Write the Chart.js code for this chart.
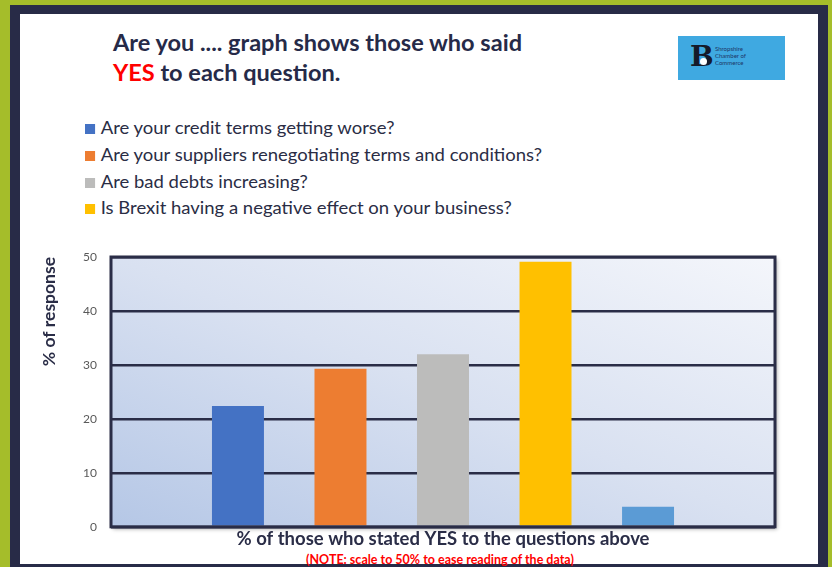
<!DOCTYPE html>
<html>
<head>
<meta charset="utf-8">
<script src="https://cdn.jsdelivr.net/npm/chart.js@4/dist/chart.umd.min.js"></script>
<style>
  body { margin: 0; width: 832px; height: 567px; overflow: hidden; background: #a5bd2a; font-family: Lato, "Noto Sans", sans-serif; }
  #frame { position: absolute; left: 10px; top: 5px; width: 818px; height: 562px; background: #282b47; }
  #page { position: absolute; left: 20px; top: 14px; width: 798px; height: 550px; background: #fff; }
  #title { position: absolute; left: 113px; top: 28px; font-weight: bold; font-size: 22px; line-height: 30px; color: #262a48; transform: scaleX(1.07); transform-origin: left top; }
  #title .yes { color: #ff0000; }
  #logo { position: absolute; left: 678px; top: 36px; width: 107px; height: 44px; background: #3fa9e1; overflow: hidden; }
  #logo .b { position: absolute; left: 12px; top: 4px; font: bold 28px "DejaVu Serif", serif; color: #151a2a; line-height: 34px; }
  #logo .dot { position: absolute; left: 22px; top: 22px; width: 7px; height: 7px; border-radius: 50%; background: #fff; }
  #logo .t { position: absolute; left: 37px; top: 9px; font-size: 6px; line-height: 7px; color: #1d3566; }
  #legend { position: absolute; left: 85px; top: 115px; font-size: 16.5px; color: #2a2d45; transform: scaleX(1.12); transform-origin: left top; }
  #legend div { height: 26.8px; line-height: 26px; white-space: nowrap; }
  #legend span { display: inline-block; width: 9px; height: 10px; margin-right: 5px; vertical-align: 0px; }
  #note { position: absolute; left: 0; width: 880px; top: 552px; text-align: center; font-weight: bold; font-size: 12.5px; color: #ff0000; }
  #wrap { position: absolute; left: 0; top: 0; width: 832px; height: 567px; }
</style>
</head>
<body>
<div id="frame"></div>
<div id="page"></div>
<div id="title">Are you .... graph shows those who said<br><span class="yes">YES</span> to each question.</div>
<div id="logo"><div class="b">B</div><div class="dot"></div><div class="t">Shropshire<br>Chamber of<br>Commerce</div></div>
<div id="legend"></div>
<div id="note">(NOTE: scale to 50% to ease reading of the data)</div>
<div id="wrap"><canvas id="chart" width="832" height="567"></canvas></div>
<script>
// DATA
const categories = ["Responses"];
const questions = [
  "Are your credit terms getting worse?",
  "Are your suppliers renegotiating terms and conditions?",
  "Are bad debts increasing?",
  "Is Brexit having a negative effect on your business?",
  ""
];
const yesValues = [22.4, 29.3, 32.0, 49.1, 3.7];
const barColors = ["#4472c4", "#ed7d31", "#bcbcbb", "#ffc000", "#5b9bd5"];
const yTicks = [0, 10, 20, 30, 40, 50];

const navy = "#2a2d47";

// HTML LEGEND (only the labelled questions)
const legendEl = document.getElementById("legend");
questions.forEach(function (q, i) {
  if (!q) return;
  const row = document.createElement("div");
  row.innerHTML = '<span style="background:' + barColors[i] + '"></span>' + q;
  legendEl.appendChild(row);
});

// gradient plot background + framed border
const plotArea = {
  id: "plotArea",
  beforeDraw(chart) {
    const { ctx, chartArea: a } = chart;
    const w = a.right - a.left, h = a.bottom - a.top;
    // iso-lines parallel to the top-left / bottom-right diagonal
    const s = (2 * w * h) / (w * w + h * h);
    ctx.save();
    ctx.shadowColor = "rgba(0,0,0,0.35)";
    ctx.shadowBlur = 4;
    ctx.shadowOffsetX = 2;
    ctx.shadowOffsetY = 2;
    const g = ctx.createLinearGradient(a.left, a.bottom, a.left + s * h, a.bottom - s * w);
    g.addColorStop(0, "#b5c7e6");
    g.addColorStop(0.5, "#d9e1f1");
    g.addColorStop(1, "#f4f6fb");
    ctx.fillStyle = g;
    ctx.fillRect(a.left, a.top, w, h);
    ctx.restore();
  },
  afterDraw(chart) {
    const { ctx, chartArea: a } = chart;
    ctx.save();
    ctx.strokeStyle = navy;
    ctx.lineWidth = 3;
    ctx.strokeRect(a.left, a.top, a.right - a.left, a.bottom - a.top);
    ctx.restore();
  },
};

const ctx = document.getElementById("chart").getContext("2d");

new Chart(ctx, {
  type: "bar",
  data: {
    labels: categories,
    datasets: questions.map(function (q, i) {
      return {
        label: q,
        data: [yesValues[i]],
        backgroundColor: barColors[i],
        categoryPercentage: 0.772,
        barPercentage: 0.507,
      };
    }),
  },
  plugins: [plotArea],
  options: {
    responsive: false,
    animation: false,
    layout: { padding: { top: 257, right: 57, left: 39, bottom: 17 } },
    scales: {
      x: {
        grid: { display: false, drawTicks: false },
        border: { display: false },
        ticks: { display: false },
        title: {
          display: true,
          text: "% of those who stated YES to the questions above",
          color: navy,
          font: { family: "Lato", size: 18.5, weight: "bold" },
          padding: { top: 1, bottom: 0 },
        },
      },
      y: {
        min: 0,
        max: 50,
        afterBuildTicks(scale) {
          scale.ticks = yTicks.map(function (v) { return { value: v }; });
        },
        afterFit(scale) { scale.width = 72; },
        grid: { color: navy, lineWidth: 2.5, drawTicks: false },
        border: { display: false },
        ticks: {
          color: "#595959",
          padding: 14,
          font: { family: "Lato", size: 12 },
        },
        title: {
          display: true,
          align: "end",
          text: "% of response",
          color: navy,
          font: { family: "Lato", size: 17.5, weight: "bold" },
          padding: 0,
        },
      },
    },
    plugins: {
      legend: { display: false },
      tooltip: { enabled: false },
    },
  },
});
</script>
</body>
</html>
